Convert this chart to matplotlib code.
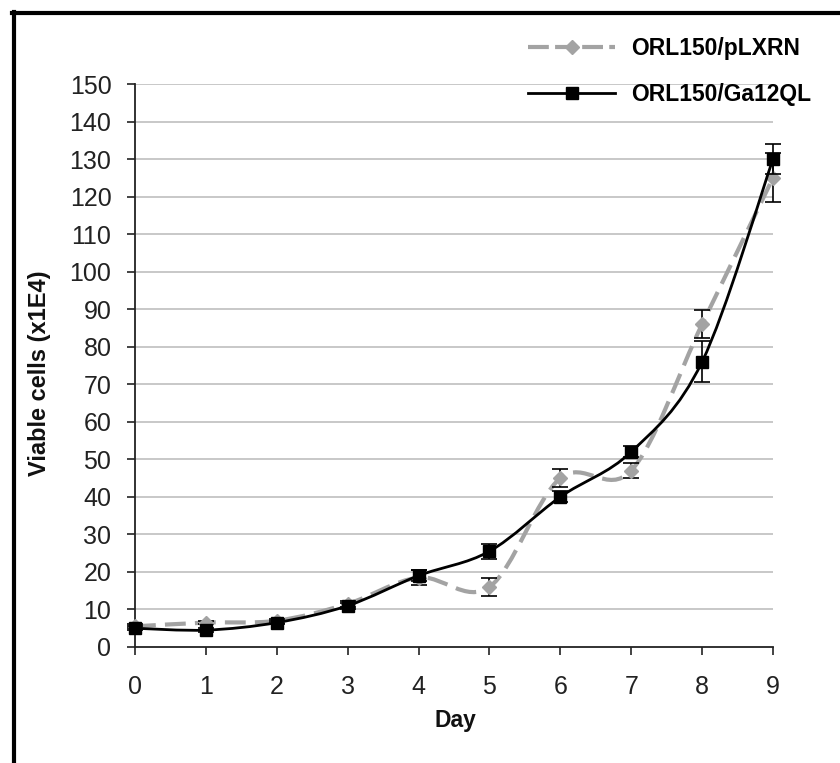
import numpy as np
import matplotlib
matplotlib.use("Agg")
import matplotlib.pyplot as plt
from matplotlib.path import Path
from matplotlib.patches import PathPatch
from matplotlib.lines import Line2D

plt.rcParams['font.family'] = ['Liberation Sans', 'DejaVu Sans']

days = [0, 1, 2, 3, 4, 5, 6, 7, 8, 9]
plxrn = [5.5, 6.5, 7, 11.5, 18.5, 16, 45, 47, 86, 125]
plxrn_err = [0.5, 0.5, 0.5, 0.8, 2, 2.4, 2.3, 2, 3.8, 6.5]
ga12ql = [5, 4.5, 6.5, 11, 19, 25.5, 40, 52, 76, 130]
ga12ql_err = [0.5, 0.5, 0.5, 0.8, 1.5, 2, 1.5, 1.5, 5.5, 4]
yticks = list(range(0, 151, 10))
labels = ['ORL150/pLXRN', 'ORL150/Ga12QL']

GRAY = '#a3a3a3'


def smooth_path(x, y):
    # Excel-like smoothed line: cubic Bezier segments (Catmull-Rom control points)
    pts = np.column_stack([x, y]).astype(float)
    n = len(pts)
    verts = [pts[0]]
    codes = [Path.MOVETO]
    for i in range(n - 1):
        p0 = pts[i - 1] if i > 0 else pts[i]
        p1 = pts[i]
        p2 = pts[i + 1]
        p3 = pts[i + 2] if i + 2 < n else pts[i + 1]
        c1 = p1 + (p2 - p0) / 6.0
        c2 = p2 - (p3 - p1) / 6.0
        verts += [c1, c2, p2]
        codes += [Path.CURVE4] * 3
    return Path(verts, codes)


fig = plt.figure(figsize=(8.4, 7.63), dpi=100)
ax = fig.add_axes([135 / 840, 1 - 647 / 763, 638 / 840, 563 / 763])

ax.set_xlim(0, 9)
ax.set_ylim(0, 150)
ax.set_yticks(yticks)
ax.set_xticks(days)
for t in yticks[1:]:
    ax.axhline(t, color='#c4c4c4', lw=1.3, zorder=0)

# gray series
ax.add_patch(PathPatch(smooth_path(days, plxrn), fill=False, edgecolor=GRAY,
                       lw=3.0, linestyle=(0, (5, 2.2)), zorder=2, clip_on=False))
ax.errorbar(days, plxrn, yerr=plxrn_err, fmt='none', ecolor='black',
            elinewidth=1.2, capsize=6, capthick=1.2, zorder=3, clip_on=False)
ax.plot(days, plxrn, linestyle='none', marker='D', ms=7, color=GRAY,
        zorder=3, clip_on=False)

# black series
ax.add_patch(PathPatch(smooth_path(days, ga12ql), fill=False, edgecolor='black',
                       lw=2.0, zorder=4, clip_on=False))
ax.errorbar(days, ga12ql, yerr=ga12ql_err, fmt='none', ecolor='black',
            elinewidth=1.2, capsize=6, capthick=1.2, zorder=5, clip_on=False)
ax.plot(days, ga12ql, linestyle='none', marker='s', ms=8.5, color='black',
        zorder=5, clip_on=False)

for s in ['top', 'right']:
    ax.spines[s].set_visible(False)
for s in ['left', 'bottom']:
    ax.spines[s].set_linewidth(1.3)
    ax.spines[s].set_color('#222222')

ax.tick_params(axis='both', direction='out', length=6, width=1.2, color='#222222',
               labelsize=18, labelcolor='#222222')
ax.tick_params(axis='y', pad=11)
ax.tick_params(axis='x', pad=14)

fig.text(40 / 840, 1 - 373 / 763, 'Viable cells (x1E4)', rotation=90,
         ha='center', va='center', fontsize=17, fontweight='bold', color='#111111')
fig.text(455 / 840, 1 - 720 / 763, 'Day', ha='center', va='center',
         fontsize=16.5, fontweight='bold', color='#111111')

h1 = Line2D([], [], color=GRAY, lw=3.0, linestyle=(0, (5, 1.5)), marker='D', ms=7)
h2 = Line2D([], [], color='black', lw=2.0, marker='s', ms=8.5)
fig.legend([h1, h2], labels, loc='upper left',
           bbox_to_anchor=(528 / 840, 1 - 37 / 763), frameon=False,
           prop={'size': 16.5, 'weight': 'bold'}, handlelength=3.8,
           handletextpad=0.7, labelspacing=1.0, borderpad=0, borderaxespad=0)

# outer frame (top and left edges)
fig.add_artist(Line2D([12 / 840, 1], [1 - 13 / 763, 1 - 13 / 763],
                      transform=fig.transFigure, color='black', lw=3))
fig.add_artist(Line2D([14 / 840, 14 / 840], [0, 1 - 12 / 763],
                      transform=fig.transFigure, color='black', lw=3))

fig.savefig('out.png', dpi=100)
